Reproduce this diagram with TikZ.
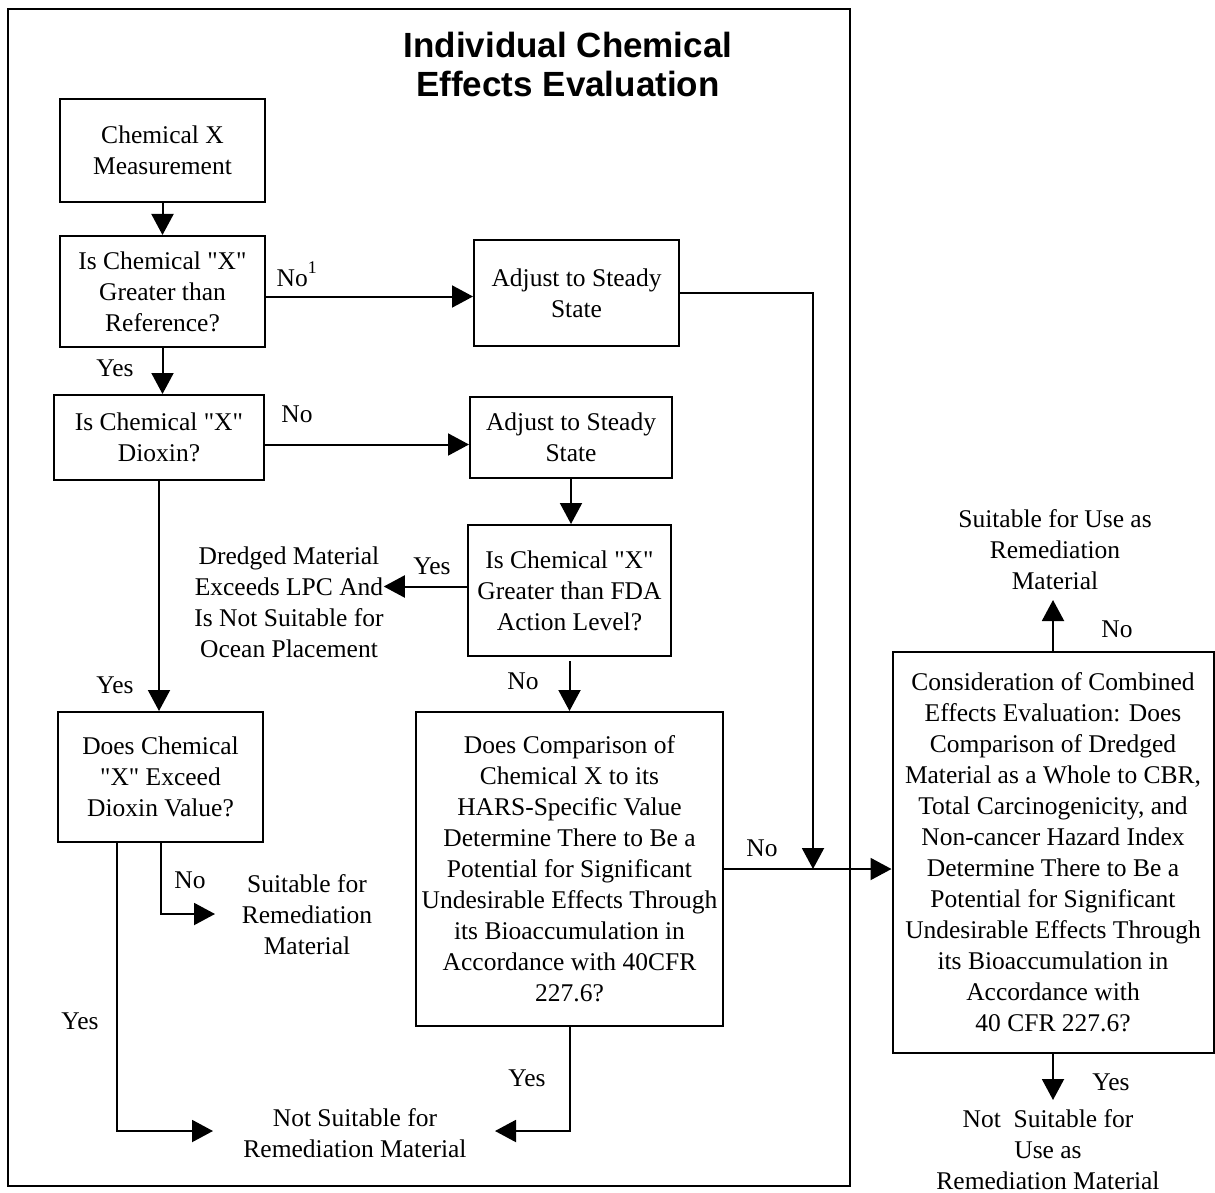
\documentclass[tikz,border=0pt]{standalone}
\usepackage{fontspec}
\setmainfont{Liberation Serif}[Ligatures=TeXOff]
\newfontfamily\titlefont{Liberation Sans}
\usetikzlibrary{arrows.meta}
\newcommand\dgfont{\fontsize{25.5}{31}\selectfont}
\begin{document}
\begin{tikzpicture}[x=1pt,y=-1pt,
  box/.style={draw, line width=2pt, align=center, inner sep=0pt, font=\dgfont},
  txt/.style={align=center, inner sep=0pt, font=\dgfont},
  lab/.style={inner sep=0pt, font=\dgfont},
  ln/.style={line width=2pt},
  arr/.style={line width=2pt, -{Triangle[length=21pt,width=22pt]}}]
\useasboundingbox (0,0) rectangle (1215,1193);
% frame
\node[draw, line width=2pt, minimum width=842, minimum height=1177, inner sep=0pt] (frame) at (429,597.5) {};
\node[align=center, inner sep=0pt, font=\titlefont\bfseries\fontsize{35}{39}\selectfont] (title) at (568,64) {Individual Chemical\\Effects Evaluation};
% boxes
\node[box, minimum width=205, minimum height=103] (A) at (162.5,150.5) {Chemical X\\Measurement};
\node[box, minimum width=205, minimum height=111] (B) at (162.5,291.5) {Is Chemical "X"\\Greater than\\Reference?};
\node[box, minimum width=205, minimum height=106] (C) at (576.5,293) {Adjust to Steady\\State};
\node[box, minimum width=210, minimum height=85] (D) at (159,437.5) {Is Chemical "X"\\Dioxin?};
\node[box, minimum width=202, minimum height=81] (E) at (571,437) {Adjust to Steady\\State};
\node[box, minimum width=203, minimum height=131] (F) at (569.5,590.5) {Is Chemical "X"\\Greater than FDA\\Action Level?};
\node[box, minimum width=307, minimum height=314] (H) at (569.5,869) {Does Comparison of\\Chemical X to its\\HARS-Specific Value\\Determine There to Be a\\Potential for Significant\\Undesirable Effects Through\\its Bioaccumulation in\\Accordance with 40CFR\\227.6?};
\node[box, minimum width=205, minimum height=130] (I) at (160.5,777) {Does Chemical\\"X" Exceed\\Dioxin Value?};
\node[box, minimum width=321, minimum height=401] (L) at (1053,852.5) {Consideration of Combined\\Effects Evaluation: Does\\Comparison of Dredged\\Material as a Whole to CBR,\\Total Carcinogenicity, and\\Non-cancer Hazard Index\\Determine There to Be a\\Potential for Significant\\Undesirable Effects Through\\its Bioaccumulation in\\Accordance with\\40 CFR 227.6?};
% outcome texts
\node[txt] (G) at (289,602) {Dredged Material\\Exceeds LPC And\\Is Not Suitable for\\Ocean Placement};
\node[txt] (J) at (307,915) {Suitable for\\Remediation\\Material};
\node[txt] (K) at (355,1133) {Not Suitable for\\Remediation Material};
\node[txt] (M) at (1055,550) {Suitable for Use as\\Remediation\\Material};
\node[txt] (N) at (1048,1150) {Not\ \ Suitable for\\Use as\\Remediation Material};
% coordinates
\coordinate (jn) at (813,869);
\coordinate (jtip) at (215,914);
\coordinate (iyes) at (117,842);
\coordinate (kl) at (213,1131);
\coordinate (kr) at (495,1131);
\coordinate (mtip) at (1053,600);
\coordinate (ntip) at (1053,1100);
% connectors
\draw[arr] (A) -- (B);
\draw[arr] ([yshift=-5pt]B.east) -- ([yshift=-5pt]B.east -| C.west);
\draw[arr] (C.east) -| (jn);
\draw[arr] (B.south) -- (B.south |- D.north);
\draw[arr] ([yshift=-7pt]D.east) -- ([yshift=-7pt]D.east -| E.west);
\draw[arr] (E.south) -- (E.south |- F.north);
\draw[arr] ([yshift=4pt]F.west) -- ([yshift=4pt]F.west -| G.east);
\draw[arr] ([yshift=-4pt]F.south) -- (F.south |- H.north);
\draw[arr] (D.south) -- (D.south |- I.north);
\draw[arr] (I.south) |- (jtip);
\draw[arr] (iyes) |- (kl);
\draw[arr] (H.south) |- (kr);
\draw[arr] (H.east) -- (H.east -| L.west);
\draw[arr] (L.north) -- (mtip);
\draw[arr] (L.south) -- (ntip);
% labels
\node[lab] (l1) at (297,274) {No\raisebox{4pt}{\textsuperscript{1}}};
\node[lab] (l2) at (115,368) {Yes};
\node[lab] (l3) at (297,414) {No};
\node[lab] (l4) at (432,566) {Yes};
\node[lab] (l5) at (523,681) {No};
\node[lab] (l6) at (115,685) {Yes};
\node[lab] (l7) at (190,880) {No};
\node[lab] (l8) at (80,1021) {Yes};
\node[lab] (l9) at (527,1078) {Yes};
\node[lab] (l10) at (762,848) {No};
\node[lab] (l11) at (1117,629) {No};
\node[lab] (l12) at (1111,1082) {Yes};
\end{tikzpicture}
\end{document}
